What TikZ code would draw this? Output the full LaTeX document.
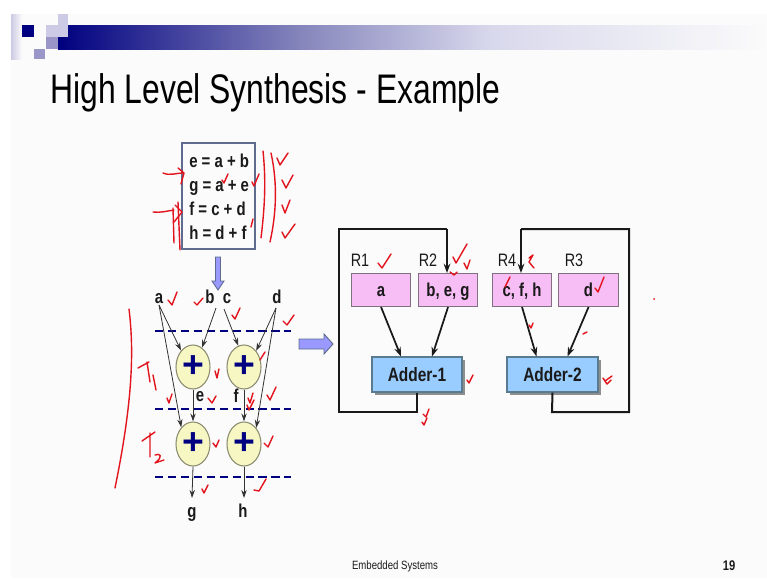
\documentclass[tikz,border=0pt]{standalone}
\usepackage{fontspec}
\usepackage{graphicx}
\setmainfont{Liberation Sans}[FakeStretch=0.8]
\newfontfamily\plusfont{Liberation Sans}
\usetikzlibrary{arrows.meta,shapes.geometric,shadows,calc}
\definecolor{navyb}{HTML}{000080}
\definecolor{pageb}{HTML}{FBFBFB}
\definecolor{sqA}{HTML}{9A96C8}
\definecolor{sqB}{HTML}{CCCAE4}
\definecolor{gradA}{HTML}{8585BC}
\definecolor{gradB}{HTML}{D8D8EC}
\definecolor{boxb}{HTML}{5F6C90}
\definecolor{arrowp}{HTML}{9999FF}
\definecolor{regf}{HTML}{F7BDF5}
\definecolor{regd}{HTML}{807080}
\definecolor{addf}{HTML}{99CCFF}
\definecolor{addd}{HTML}{5A7A90}
\definecolor{circf}{HTML}{F7F7C4}
\definecolor{circd}{HTML}{8C8C70}
\definecolor{txt}{HTML}{1A1A1A}
\definecolor{ink}{HTML}{E2141E}
\tikzset{
  lbl/.style={font=\fontsize{14}{16}\selectfont\bfseries, text=txt, inner sep=0pt, text height=11pt, text depth=2pt},
  eqn/.style={lbl, anchor=west},
  opsize/.style={ellipse, draw=circd, line width=.8pt, fill=circf, minimum width=25.5pt, minimum height=33pt, inner sep=0pt, font=\plusfont\fontsize{28}{28}\selectfont\bfseries, text=navyb},
  regbox/.style={draw=regd, line width=.8pt, fill=regf, anchor=north west, inner sep=0pt, lbl},
  addbox/.style={draw=addd, line width=.8pt, fill=addf, inner sep=0pt, font=\fontsize{14.5}{16}\selectfont\bfseries, text=txt,
    drop shadow={shadow xshift=2.2pt, shadow yshift=-2.2pt, fill=black!55, opacity=.8}},
  reglabel/.style={anchor=base, inner sep=0pt, text=txt, font=\fontsize{13.5}{15}\selectfont},
  thin arrow/.style={draw=black!80, line width=.6pt, -{Stealth[length=6pt,width=4pt]}},
  thick arrow/.style={draw=black!90, line width=1.3pt, -{Stealth[length=7pt,width=5pt]}},
  feedback/.style={draw=black!90, line width=1.5pt},
  dash line/.style={draw=navyb, line width=2.2pt, dash pattern=on 6.2pt off 3.5pt},
  block/.style={draw=boxb, line width=.7pt, fill=arrowp},
  handw/.style={draw=ink, line width=1.05pt, line cap=round, line join=round},
}
\begin{document}
\begin{tikzpicture}[x=0.75pt,y=-0.75pt]
\useasboundingbox (0,0) rectangle (767,578);
\fill[white] (0,0) rectangle (767,578);
\fill[pageb] (11,14) rectangle (767,578);
% banner
\shade[left color=navyb, right color=gradA] (58,25) rectangle (300,49);
\shade[left color=gradA, right color=gradB] (299.5,25) rectangle (490,49);
\shade[left color=gradB, right color=pageb] (489.5,25) rectangle (767,49);
\shade[left color=sqB, right color=pageb] (11,14) rectangle (22,59);
\fill[navyb] (22,25) rectangle (34,37);
\fill[sqB] (58,14) rectangle (68,37);
\fill[sqB] (46,25) rectangle (58,37);
\fill[sqA] (46,37) rectangle (58,49);
\fill[sqA] (34,49) rectangle (45,59);
% title
\node[anchor=base west, inner sep=0pt, text=black] (title) at (50,103)
  {\scalebox{0.964}[1]{\fontsize{31}{34}\selectfont High Level Synthesis - Example}};
% equations
\node[draw=boxb, line width=1pt, fill=pageb, minimum width=54.75pt, minimum height=79.5pt, inner sep=0pt] (eqbox) at (218.5,196) {};
\node[eqn] (eq1) at (189,161) {e = a + b};
\node[eqn] (eq2) at (189,185.5) {g = a + e};
\node[eqn] (eq3) at (189,209.5) {f = c + d};
\node[eqn] (eq4) at (189,233) {h = d + f};
% block arrows
\draw[block] (215.5,257) -- (220.5,257) -- (220.5,281) -- (224,281) -- (218,290) -- (212,281) -- (215.5,281) -- cycle;
\draw[block] (299,339) -- (324,339) -- (324,334) -- (333,344) -- (324,354) -- (324,349) -- (299,349) -- cycle;
% dashed
\coordinate (d1l) at (155,331); \coordinate (d1r) at (291,331);
\coordinate (d2l) at (155,409); \coordinate (d2r) at (291,409);
\coordinate (d3l) at (155,477); \coordinate (d3r) at (291,477);
\draw[dash line] (d1l) -- (d1r);
\draw[dash line] (d2l) -- (d2r);
\draw[dash line] (d3l) -- (d3r);
% dfg labels
\node[lbl] (la) at (159,297) {a};
\node[lbl] (lb) at (210,297) {b};
\node[lbl] (lc) at (227,297) {c};
\node[lbl] (ld) at (277,297) {d};
\node[lbl] (le) at (200,395) {e};
\node[lbl] (lf) at (236,396) {f};
\node[lbl] (lg) at (192,511) {g};
\node[lbl] (lh) at (243,511) {h};
\node[opsize] (c1) at (193,367) {\raisebox{-5.5pt}{+}};
\node[opsize] (c2) at (244,367) {\raisebox{-5.5pt}{+}};
\node[opsize] (c3) at (193,444) {\raisebox{-5.5pt}{+}};
\node[opsize] (c4) at (244,444) {\raisebox{-5.5pt}{+}};
\coordinate (oa) at (159,305); \coordinate (ob) at (216,308); \coordinate (oc) at (224,309); \coordinate (od) at (276,308);
\coordinate (og) at (192,498); \coordinate (oh) at (244,498);
\draw[thin arrow] (oa) -- (c1.126);
\draw[thin arrow] (oa) -- (c3.125);
\draw[thin arrow] (ob) -- (c1.65);
\draw[thin arrow] (oc) -- (c2.105);
\draw[thin arrow] (od) -- (c2.53);
\draw[thin arrow] (od) -- (c4.53);
\draw[thin arrow] (c1.south) -- (c3.north);
\draw[thin arrow] (c2.south) -- (c4.north);
\draw[thin arrow] (c3.south) -- (og);
\draw[thin arrow] (c4.south) -- (oh);
% registers
\node[regbox, minimum width=44.25pt, minimum height=24.75pt] (r1) at (351,273) {a};
\node[regbox, minimum width=44.25pt, minimum height=24.75pt] (r2) at (418,273) {b, e, g};
\node[regbox, minimum width=44.25pt, minimum height=24.75pt] (r4) at (492,273) {c, f, h};
\node[regbox, minimum width=45pt, minimum height=24.75pt] (r3) at (558,273) {d};
\node[reglabel] (t1) at (360,266.5) {R1};
\node[reglabel] (t2) at (428,266.5) {R2};
\node[reglabel] (t4) at (507,266.5) {R4};
\node[reglabel] (t3) at (574,266.5) {R3};
\node[addbox, minimum width=67.5pt, minimum height=26.25pt] (a1) at (417,374.5) {Adder-1};
\node[addbox, minimum width=68.25pt, minimum height=26.25pt] (a2) at (552.5,374.5) {Adder-2};
\draw[thick arrow] (r1.south) -- ($(a1.north)+(-16,0)$);
\draw[thick arrow] (r2.south) -- ($(a1.north)+(15,0)$);
\draw[thick arrow] (r4.south) -- ($(a2.north)+(-16,0)$);
\draw[thick arrow] (r3.south) -- ($(a2.north)+(15,0)$);
\coordinate (f1a) at (417,412); \coordinate (f1b) at (339,412); \coordinate (f1c) at (339,229); \coordinate (f1d) at (447,229);
\coordinate (f2a) at (552,412); \coordinate (f2b) at (629,412); \coordinate (f2c) at (629,229); \coordinate (f2d) at (521,229);
\draw[feedback] (a1.south) -- (f1a) -- (f1b) -- (f1c) -- (f1d);
\draw[thick arrow, line width=1.5pt] (f1d) -- (f1d |- r2.north);
\draw[feedback] (a2.south) -- (f2a) -- (f2b) -- (f2c) -- (f2d);
\draw[thick arrow, line width=1.5pt] (f2d) -- (f2d |- r4.north);
% footer
\node[inner sep=0pt, text=txt, font=\fontsize{9}{11}\selectfont] (foot) at (395,566) {Embedded Systems};
\node[inner sep=0pt, text=txt, font=\fontsize{10.5}{12}\selectfont\bfseries] (pg) at (729,566) {19};
% handwriting
\begin{scope}[handw]
\draw (163,173) .. controls (170,176) and (176,173) .. (183,173) (178,168) -- (184,173) -- (181,184);
\draw (153,212) .. controls (160,213) and (167,211) .. (174,210) (175,205) -- (182,212) -- (174,222);
\draw (173,208) -- (174,243) (178,202) -- (180,250);
\draw (263,151) .. controls (266,180) and (265,205) .. (261,238);
\draw (271,153) .. controls (278,185) and (276,215) .. (270,242);
\draw (277,158) -- (280,165) -- (288,153);
\draw (282,180) -- (286,188) -- (293,175);
\draw (282,205) -- (285,213) -- (290,200);
\draw (282,232) -- (285,238) -- (295,224);
\draw (222,180) -- (224,183) -- (228,174);
\draw (252,182) -- (254,186) -- (259,174);
\draw (251,227) -- (253,219);
\draw (168,300) -- (172,305) -- (177,292);
\draw (194,302) -- (197,305) -- (203,298);
\draw (232,315) -- (235,319) -- (240,308);
\draw (283,321) -- (287,325) -- (294,315);
\draw (129,309) .. controls (134,350) and (133,400) .. (115,488);
\draw (138,368) -- (149,362) (147,362) -- (150,382) (153,375) -- (156,390);
\draw (142,441) -- (155,432) (150,433) -- (150,457);
\draw (155,455) .. controls (160,453) and (164,456) .. (155,463) -- (164,460);
\draw (215,371) -- (217,378) -- (219,369);
\draw (167,398) -- (169,403) -- (172,394);
\draw (208,398) -- (212,403) -- (216,396);
\draw (248,398) -- (250,403) -- (253,393);
\draw (247,405) -- (249,410) -- (254,400);
\draw (267,395) -- (270,400) -- (276,387);
\draw (260,360) -- (265,352);
\draw (213,443) -- (216,447) -- (219,440);
\draw (264,443) -- (268,447) -- (273,436);
\draw (202,489) -- (204,493) -- (208,485);
\draw (254,490) -- (259,491) -- (266,479);
\draw (378,263) -- (382,268) -- (391,254);
\draw (453,257) -- (456,263) -- (467,244);
\draw (464,263) -- (467,269) -- (470,260);
\draw (450,272) -- (454,275) -- (457,272);
\draw (529,258) -- (533,255) -- (529,262) -- (534,268);
\draw (505,287) -- (510,277);
\draw (595,288) -- (598,292) -- (604,277);
\draw (529,325) -- (531,328) -- (533,323);
\draw (583,334) -- (587,332);
\draw (467,380) -- (469,383) -- (473,375);
\draw (605,381) -- (612,376) (603,378) -- (607,384) -- (611,380);
\draw (423,414) -- (426,417) -- (429,409);
\draw (422,422) -- (424,425) -- (427,418);
\fill[ink] (654,299) circle (1);
\end{scope}
\end{tikzpicture}
\end{document}
